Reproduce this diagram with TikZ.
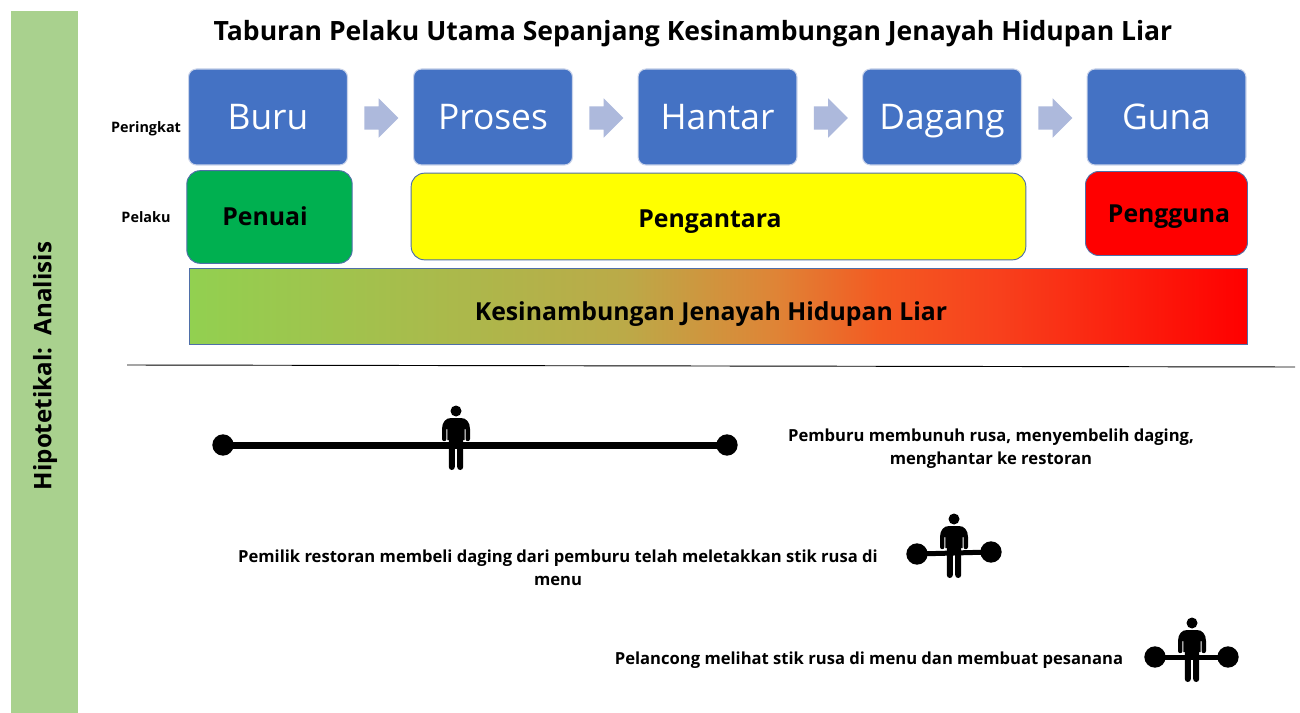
\documentclass[tikz,border=0pt]{standalone}
\usepackage{fontspec}
\setmainfont{Open Sans}
\usetikzlibrary{shapes.arrows,calc}
\definecolor{blueb}{HTML}{4472C4}
\definecolor{arrowb}{HTML}{ADB9DC}
\definecolor{stageedge}{HTML}{C9D3EA}
\definecolor{edgeb}{HTML}{4F6FA8}
\definecolor{sage}{HTML}{A9D18E}
\definecolor{grn}{HTML}{00B050}
\definecolor{yel}{RGB}{255,255,0}
\definecolor{redd}{RGB}{255,0,0}
\definecolor{gA}{HTML}{92D050}
\definecolor{gB}{HTML}{BBAA48}
\definecolor{gC}{HTML}{DF8436}
\definecolor{gD}{HTML}{F35A22}
\definecolor{gE}{HTML}{F8401C}
\pgfdeclarehorizontalshading{barshade}{100bp}{
 color(0bp)=(gA);
 color(25bp)=(gA);
 color(45.5bp)=(gB);
 color(52.7bp)=(gC);
 color(57.6bp)=(gD);
 color(63.3bp)=(gE);
 color(75bp)=(redd);
 color(100bp)=(redd)}
\tikzset{
 stagebox/.style={rounded corners=6pt,draw=stageedge,line width=0.8pt,fill=blueb,text=white,font=\fontsize{26.5}{30}\selectfont,minimum width=119.2pt,minimum height=72pt,inner sep=0pt,text height=19pt,text depth=0pt},
 actorbox/.style={rounded corners=10pt,draw=edgeb,line width=0.7pt,font=\bfseries\fontsize{18.6}{22}\selectfont,inner sep=0pt,text height=13.3pt,text depth=0pt},
 flowarrow/.style={single arrow,fill=arrowb,draw=none,inner sep=0pt,inner ysep=8.6pt,single arrow head extend=6pt,minimum height=25.5pt},
 lab/.style={font=\bfseries\fontsize{10.8}{13}\selectfont,inner sep=0pt},
 desc/.style={font=\bfseries\fontsize{12.45}{17}\selectfont,align=center,inner sep=0pt},
 dotend/.style={circle,fill=black,inner sep=0pt,outer sep=0pt,minimum size=16pt},
 barline/.style={shorten >=-1pt,shorten <=-1pt},
 person/.pic={
  \fill[black] (0,0) circle (5.5);
  \fill[black] (-14,18) .. controls (-14,11) and (-10,7) .. (-5,7) -- (5,7) .. controls (10,7) and (14,11) .. (14,18) -- (14,28) arc[start angle=0,end angle=180,radius=2.2] -- (9.6,18) -- (8.6,18) -- (8.6,29) -- (-8.6,29) -- (-8.6,18) -- (-9.6,18) -- (-9.6,28) arc[start angle=0,end angle=180,radius=2.2] -- cycle;
  \fill[black] (-7.2,14) -- (7.2,14) -- (7.2,56) arc[start angle=0,end angle=180,radius=3] -- (1.2,33) -- (-1.2,33) -- (-1.2,56) arc[start angle=0,end angle=180,radius=3] -- cycle;
 },
}
\begin{document}
\begin{tikzpicture}[x=0.75pt,y=-0.75pt]
\useasboundingbox (0,0) rectangle (1300,713);
\fill[white] (0,0) rectangle (1300,713);
\fill[sage] (11,11) rectangle (78,713);
\node[rotate=90,font=\bfseries\fontsize{18.1}{20}\selectfont] (side) at (45,366) {Hipotetikal:\ \ Analisis};
\node[font=\bfseries\fontsize{19.9}{24}\selectfont] (title) at (693,34) {Taburan Pelaku Utama Sepanjang Kesinambungan Jenayah Hidupan Liar};
\node[stagebox] (s1) at (268,117) {Buru};
\node[stagebox] (s2) at (493,117) {Proses};
\node[stagebox] (s3) at (717.5,117) {Hantar};
\node[stagebox] (s4) at (942,117) {Dagang};
\node[stagebox] (s5) at (1166.5,117) {Guna};
\node[flowarrow] (a1) at (375.5,118) {};
\node[flowarrow] (a2) at (600.5,118) {};
\node[flowarrow] (a3) at (825,118) {};
\node[flowarrow] (a4) at (1049.5,118) {};
\node[lab] (l1) at (146,129) {Peringkat};
\node[lab] (l2) at (146,217) {Pelaku};
\node[actorbox,fill=grn,minimum width=124pt,minimum height=69.5pt] (p1) at (269.5,217) {\hspace*{-6.75pt}Penuai};
\node[actorbox,fill=yel,minimum width=461pt,minimum height=65pt,text height=17pt] (p2) at (718.5,216.5) {\hspace*{-12.75pt}Pengantara};
\node[actorbox,fill=redd,minimum width=121.5pt,minimum height=63pt] (p3) at (1166.5,213.5) {\hspace*{3.75pt}Pengguna};
\node[draw=edgeb,line width=0.7pt,minimum width=793pt,minimum height=57pt,inner sep=0pt,shading=barshade] (bar) at (718.5,306) {};
\node[font=\bfseries\fontsize{18.6}{22}\selectfont] (bart) at (711,314) {Kesinambungan Jenayah Hidupan Liar};
\coordinate (r1) at (127,365); \coordinate (r2) at (1295,367);
\draw[line width=0.7pt] (r1) -- (r2);
% line 1
\node[dotend] (d1a) at (223,445) {};
\node[dotend] (d1b) at (727,445) {};
\draw[barline,line width=5.25pt] (d1a) -- (d1b);
\pic at (456,411) {person};
\node[desc] (t1) at (991,449) {Pemburu membunuh rusa, menyembelih daging,\\menghantar ke restoran};
% line 2
\node[dotend] (d2a) at (917,554) {};
\node[dotend] (d2b) at (991,552) {};
\draw[barline,line width=3.75pt] (d2a) -- (d2b);
\pic at (954,519) {person};
\node[desc] (t2) at (558,568) {Pemilik restoran membeli daging dari pemburu telah meletakkan stik rusa di\\menu};
% line 3
\node[dotend] (d3a) at (1155,657) {};
\node[dotend] (d3b) at (1228,657) {};
\draw[barline,line width=3.75pt] (d3a) -- (d3b);
\pic at (1192,623) {person};
\node[desc] (t3) at (869,660) {Pelancong melihat stik rusa di menu dan membuat pesanana};
\end{tikzpicture}
\end{document}
